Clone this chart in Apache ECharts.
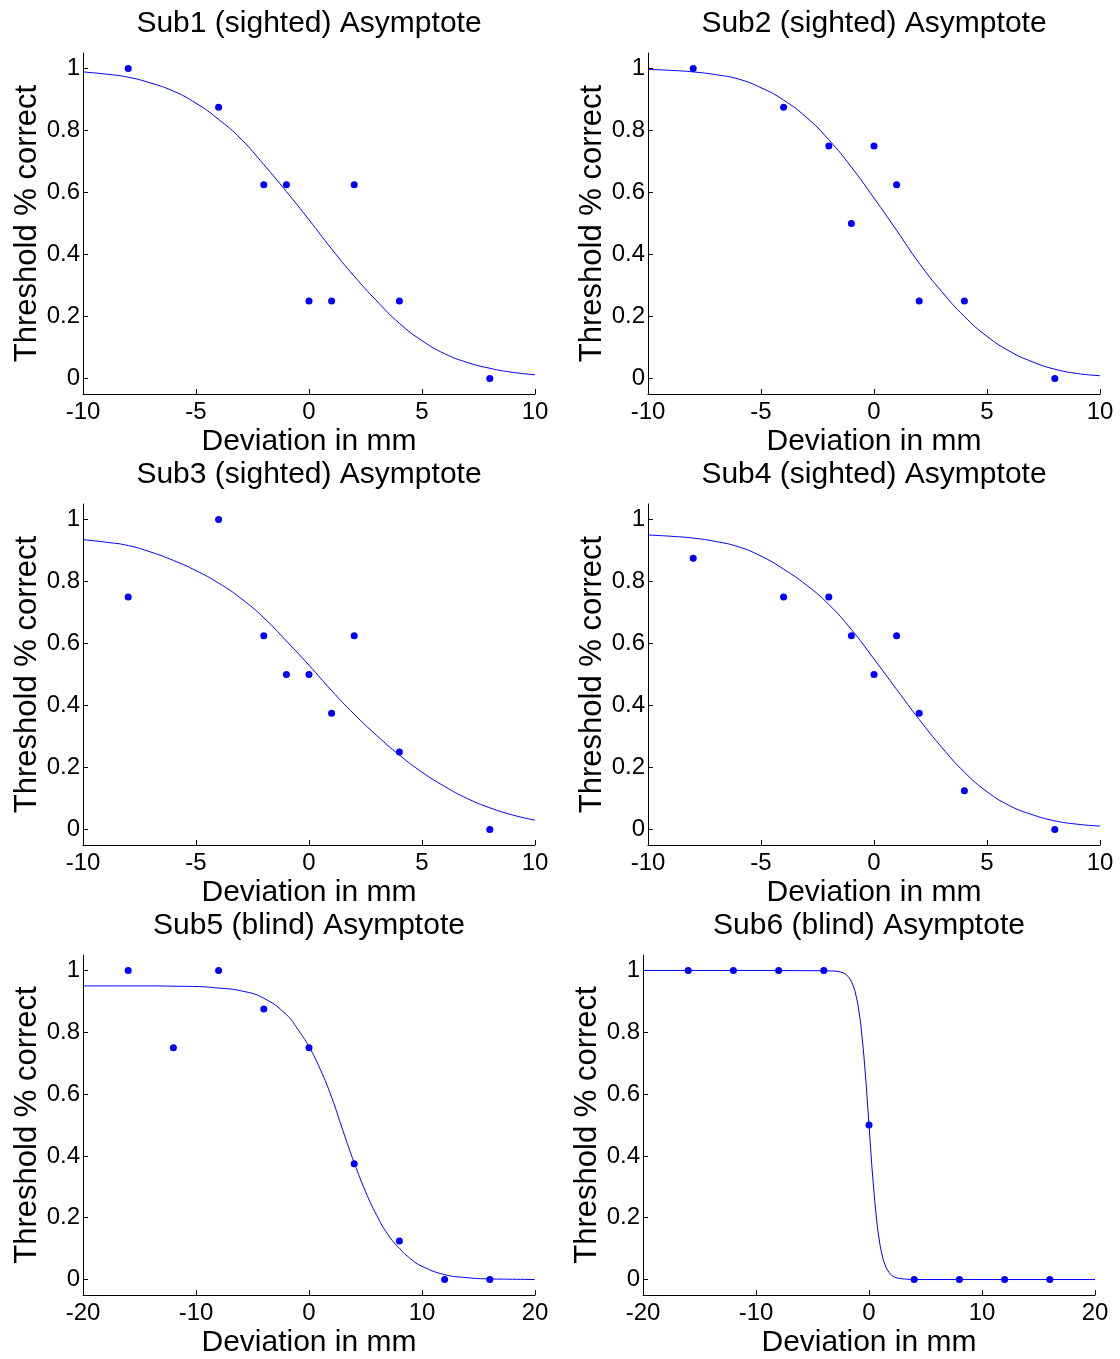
<!DOCTYPE html>
<html>
<head>
<meta charset="utf-8">
<script src="https://cdn.jsdelivr.net/npm/echarts@6/dist/echarts.min.js"></script>
<style>
html,body{margin:0;padding:0;background:#fff;}
#chart{width:1120px;height:1359px;}
</style>
</head>
<body>
<div id="chart"></div>
<script>
// ---------- data ----------
const titles = [
  'Sub1 (sighted) Asymptote', 'Sub2 (sighted) Asymptote',
  'Sub3 (sighted) Asymptote', 'Sub4 (sighted) Asymptote',
  'Sub5 (blind) Asymptote', 'Sub6 (blind) Asymptote'
];
const yTicks = [0, 0.2, 0.4, 0.6, 0.8, 1];
const xTicksSighted = [-10, -5, 0, 5, 10];
const xTicksBlind = [-20, -10, 0, 10, 20];

const ptsXSighted = [-8, -4, -2, -1, 0, 1, 2, 4, 8];
const ptsXBlind = [-16, -12, -8, -4, 0, 4, 8, 12, 16];

const sub1Pts = [1, 0.875, 0.625, 0.625, 0.25, 0.25, 0.625, 0.25, 0];
const sub2Pts = [1, 0.875, 0.75, 0.5, 0.75, 0.625, 0.25, 0.25, 0];
const sub3Pts = [0.75, 1, 0.625, 0.5, 0.5, 0.375, 0.625, 0.25, 0];
const sub4Pts = [0.875, 0.75, 0.75, 0.625, 0.5, 0.625, 0.375, 0.125, 0];
const sub5Pts = [1, 0.75, 1, 0.875, 0.75, 0.375, 0.125, 0, 0];
const sub6Pts = [1, 1, 1, 1, 0.5, 0, 0, 0, 0];

// fitted curves
const fitXSighted = [-10, -9, -8, -7, -6, -5, -4, -3, -2, -1, 0, 1, 2, 3, 4, 5, 6, 7, 8, 9, 10];
const sub1Fit = [0.989, 0.982, 0.972, 0.953, 0.927, 0.888, 0.836, 0.772, 0.690, 0.603, 0.512, 0.418, 0.330, 0.250, 0.178, 0.122, 0.080, 0.052, 0.033, 0.020, 0.012];
const sub2Fit = [0.997, 0.994, 0.989, 0.980, 0.966, 0.938, 0.898, 0.843, 0.770, 0.682, 0.582, 0.478, 0.372, 0.280, 0.200, 0.136, 0.088, 0.054, 0.030, 0.016, 0.009];
const sub3Fit = [0.935, 0.927, 0.916, 0.895, 0.868, 0.835, 0.795, 0.745, 0.683, 0.608, 0.530, 0.448, 0.372, 0.303, 0.240, 0.185, 0.139, 0.100, 0.070, 0.047, 0.030];
const sub4Fit = [0.950, 0.946, 0.940, 0.929, 0.912, 0.882, 0.840, 0.789, 0.726, 0.645, 0.550, 0.452, 0.355, 0.265, 0.185, 0.122, 0.077, 0.048, 0.028, 0.017, 0.011];

const fitX5 = [-20, -18, -16, -14, -12, -10, -8, -6, -4, -2, -1, 0, 1, 2, 3, 4, 5, 6, 7, 8, 9, 10, 12, 14, 16, 18, 20];
const sub5Fit = [0.950, 0.950, 0.950, 0.950, 0.949, 0.948, 0.943, 0.934, 0.910, 0.857, 0.810, 0.753, 0.680, 0.590, 0.482, 0.378, 0.285, 0.207, 0.145, 0.101, 0.067, 0.043, 0.016, 0.006, 0.002, 0.001, 0.000];

const fitX6 = [-20, -10, -4, -3, -2.5, -2.25, -2, -1.75, -1.5, -1.25, -1, -0.75, -0.5, -0.25, 0, 0.25, 0.5, 0.75, 1, 1.25, 1.5, 1.75, 2, 2.25, 2.5, 3, 4, 10, 20];
const sub6Fit = [1, 1, 0.999, 0.998, 0.995, 0.992, 0.986, 0.976, 0.960, 0.935, 0.894, 0.833, 0.744, 0.632, 0.5, 0.368, 0.256, 0.167, 0.106, 0.065, 0.040, 0.024, 0.014, 0.008, 0.005, 0.002, 0, 0, 0];

const panels = [
  {pts: sub1Pts, px: ptsXSighted, fx: fitXSighted, fy: sub1Fit, xr: [-10, 10], xt: xTicksSighted, smooth: 0.5},
  {pts: sub2Pts, px: ptsXSighted, fx: fitXSighted, fy: sub2Fit, xr: [-10, 10], xt: xTicksSighted, smooth: 0.5},
  {pts: sub3Pts, px: ptsXSighted, fx: fitXSighted, fy: sub3Fit, xr: [-10, 10], xt: xTicksSighted, smooth: 0.5},
  {pts: sub4Pts, px: ptsXSighted, fx: fitXSighted, fy: sub4Fit, xr: [-10, 10], xt: xTicksSighted, smooth: 0.5},
  {pts: sub5Pts, px: ptsXBlind, fx: fitX5, fy: sub5Fit, xr: [-20, 20], xt: xTicksBlind, smooth: 0.5},
  {pts: sub6Pts, px: ptsXBlind, fx: fitX6, fy: sub6Fit, xr: [-20, 20], xt: xTicksBlind, smooth: false}
];

// ---------- layout ----------
const FONT = '"Liberation Sans", Arial, Helvetica, sans-serif';
const gridLefts = [83, 648, 83, 648, 83, 643];
const tops = [53, 504, 955];
const GW = 452, GH = 341;
const BLUE = '#0000ff';

const grid = [], xAxis = [], yAxis = [], series = [], title = [];
panels.forEach((p, i) => {
  const row = Math.floor(i / 2);
  const left = gridLefts[i], top = tops[row];
  grid.push({left: left, top: top, width: GW, height: GH, containLabel: false});
  title.push({
    text: titles[i], left: left + GW / 2, top: top - 44, textAlign: 'center', padding: 0,
    textStyle: {fontFamily: FONT, fontSize: 30, fontWeight: 'normal', color: '#000'}
  });
  xAxis.push({
    type: 'value', gridIndex: i, min: p.xr[0], max: p.xr[1],
    name: 'Deviation in mm', nameLocation: 'middle', nameGap: 33,
    nameTextStyle: {fontFamily: FONT, fontSize: 30, color: '#000'},
    axisLine: {show: true, onZero: false, lineStyle: {color: '#000', width: 1}},
    axisTick: {show: true, inside: true, length: 5, customValues: p.xt, lineStyle: {color: '#000'}},
    axisLabel: {show: true, margin: 6, customValues: p.xt, fontFamily: FONT, fontSize: 24, color: '#000',
      formatter: v => String(Math.round(v))},
    splitLine: {show: false}
  });
  yAxis.push({
    type: 'value', gridIndex: i, min: -0.05, max: 1.05,
    name: 'Threshold % correct', nameLocation: 'middle', nameGap: 40,
    nameTextStyle: {fontFamily: FONT, fontSize: 31, color: '#000'},
    axisLine: {show: true, onZero: false, lineStyle: {color: '#000', width: 1}},
    axisTick: {show: true, inside: true, length: 5, customValues: yTicks, lineStyle: {color: '#000'}},
    axisLabel: {show: true, margin: 3, customValues: yTicks, fontFamily: FONT, fontSize: 24, color: '#000',
      formatter: v => String(+(+v).toFixed(2))},
    splitLine: {show: false}
  });
  series.push({
    type: 'line', xAxisIndex: i, yAxisIndex: i,
    data: p.fx.map((x, k) => [x, p.fy[k]]),
    showSymbol: false, smooth: p.smooth,
    lineStyle: {color: BLUE, width: 1}, silent: true, animation: false, z: 2
  });
  series.push({
    type: 'scatter', xAxisIndex: i, yAxisIndex: i,
    data: p.px.map((x, k) => [x, p.pts[k]]),
    symbol: 'circle', symbolSize: 7, itemStyle: {color: BLUE, opacity: 1}, silent: true, animation: false, z: 3
  });
});

const chart = echarts.init(document.getElementById('chart'), null, {renderer: 'canvas'});
chart.setOption({
  backgroundColor: '#fff',
  animation: false,
  title: title,
  grid: grid,
  xAxis: xAxis,
  yAxis: yAxis,
  series: series
});
</script>
</body>
</html>
